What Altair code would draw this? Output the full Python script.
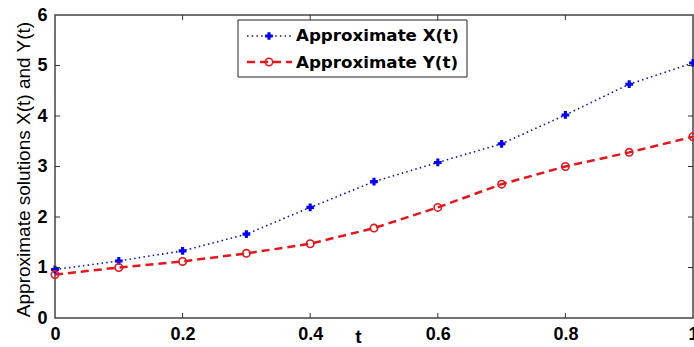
import altair as alt
import pandas as pd

t_vals = [0.0, 0.1, 0.2, 0.3, 0.4, 0.5, 0.6, 0.7, 0.8, 0.9, 1.0]
x_vals = [0.96, 1.13, 1.33, 1.66, 2.19, 2.70, 3.08, 3.45, 4.02, 4.63, 5.05]
y_vals = [0.86, 1.00, 1.12, 1.28, 1.47, 1.78, 2.19, 2.65, 3.00, 3.28, 3.59]
series_names = ["Approximate X(t)", "Approximate Y(t)"]
x_ticks = [0, 0.2, 0.4, 0.6, 0.8, 1]
y_ticks = [0, 1, 2, 3, 4, 5, 6]

W, H = 638, 303
SANS = "'Liberation Sans', Arial, sans-serif"
LEGF = "'DejaVu Sans', sans-serif"
BLUE = "#0000FF"
BLUE_LINE = "#1010C0"
RED = "#E8141C"

dfx = pd.DataFrame({"t": t_vals, "value": x_vals})
dfy = pd.DataFrame({"t": t_vals, "value": y_vals})
dxt = pd.DataFrame({"t": x_ticks[1:-1]})
dyt = pd.DataFrame({"value": y_ticks[1:-1]})

xaxis = alt.Axis(values=x_ticks, format=".1~f", ticks=False, domain=False, grid=False,
                 labelFont=SANS, labelFontSize=18, labelFontWeight="bold", labelColor="#000",
                 labelPadding=7, labelFlush=False,
                 title="t", titleFont=SANS, titleFontSize=19, titleFontWeight="bold",
                 titleColor="#000", titleX=303, titleY=28, titleBaseline="bottom",
                 titleAnchor="start", titleAlign="center")
yaxis = alt.Axis(values=y_ticks, format="d", ticks=False, domain=False, grid=False,
                 labelFont=SANS, labelFontSize=18, labelFontWeight="bold", labelColor="#000",
                 labelPadding=8, title="Approximate solutions X(t) and Y(t)", titleFont=SANS,
                 titleFontSize=19, titleFontWeight="normal", titleColor="#000",
                 titleX=-32, titleY=154, titleBaseline="middle", titleAnchor="start",
                 titleAlign="center", titleAngle=270)
xs = alt.Scale(domain=[0, 1], nice=False, zero=False)
ys = alt.Scale(domain=[0, 6], nice=False, zero=False)

def X():
    return alt.X("t:Q", scale=xs, axis=xaxis)

def Y():
    return alt.Y("value:Q", scale=ys, axis=yaxis)

line_x = alt.Chart(dfx).mark_line(color=BLUE_LINE, strokeWidth=1.6, strokeDash=[1.5, 3.2]).encode(x=X(), y=Y())
pts_x = alt.Chart(dfx).mark_point(shape="cross", filled=True, color=BLUE, size=60, opacity=1).encode(x=X(), y=Y())
line_y = alt.Chart(dfy).mark_line(color=RED, strokeWidth=2.5, strokeDash=[8, 5]).encode(x=X(), y=Y())
pts_y = alt.Chart(dfy).mark_point(shape="circle", filled=False, color=RED, size=55, strokeWidth=1.6, opacity=1).encode(x=X(), y=Y())

TICK = "#333"
tb = alt.Chart(dxt).mark_rule(color=TICK, strokeWidth=1).encode(x=X(), y=alt.value(H), y2=alt.value(H - 5))
tt = alt.Chart(dxt).mark_rule(color=TICK, strokeWidth=1).encode(x=X(), y=alt.value(0), y2=alt.value(5))
tl = alt.Chart(dyt).mark_rule(color=TICK, strokeWidth=1).encode(y=Y(), x=alt.value(0), x2=alt.value(5))
tr = alt.Chart(dyt).mark_rule(color=TICK, strokeWidth=1).encode(y=Y(), x=alt.value(W), x2=alt.value(W - 5))

# legend box
one = pd.DataFrame({"k": [0]})
lbox = alt.Chart(one).mark_rect(fill="white", stroke="#222", strokeWidth=1).encode(
    x=alt.value(183), x2=alt.value(412), y=alt.value(5), y2=alt.value(62))
leg_ds = pd.DataFrame({"name": series_names})
l1 = alt.Chart(one).mark_rule(color=BLUE_LINE, strokeWidth=1.6, strokeDash=[1.5, 3.2]).encode(
    x=alt.value(192), x2=alt.value(237), y=alt.value(21))
m1 = alt.Chart(one).mark_point(shape="cross", filled=True, color=BLUE, size=60, opacity=1).encode(
    x=alt.value(214), y=alt.value(21))
l2 = alt.Chart(one).mark_rule(color=RED, strokeWidth=2.5, strokeDash=[8, 5]).encode(
    x=alt.value(192), x2=alt.value(237), y=alt.value(47))
m2 = alt.Chart(one).mark_point(shape="circle", filled=False, color=RED, size=55, strokeWidth=1.6, opacity=1).encode(
    x=alt.value(214), y=alt.value(47))
txt1 = alt.Chart(leg_ds).transform_filter(alt.datum.name == series_names[0]).mark_text(
    align="left", baseline="middle", font=LEGF, fontSize=16.7, fontWeight="bold", color="#000").encode(
    x=alt.value(241), y=alt.value(21), text="name:N")
txt2 = alt.Chart(leg_ds).transform_filter(alt.datum.name == series_names[1]).mark_text(
    align="left", baseline="middle", font=LEGF, fontSize=16.7, fontWeight="bold", color="#000").encode(
    x=alt.value(241), y=alt.value(48), text="name:N")

chart = alt.layer(
    line_x, line_y, pts_x, pts_y, tb, tt, tl, tr, lbox, l1, l2, m1, m2, txt1, txt2
).properties(
    width=W, height=H,
    autosize=alt.AutoSizeParams(type="none"),
    padding={"left": 55, "top": 15, "right": 1, "bottom": 29},
    background="white",
).configure_view(stroke="#444", strokeWidth=1.5)

chart.save("out.html", embed_options={"renderer": "svg", "actions": False})
